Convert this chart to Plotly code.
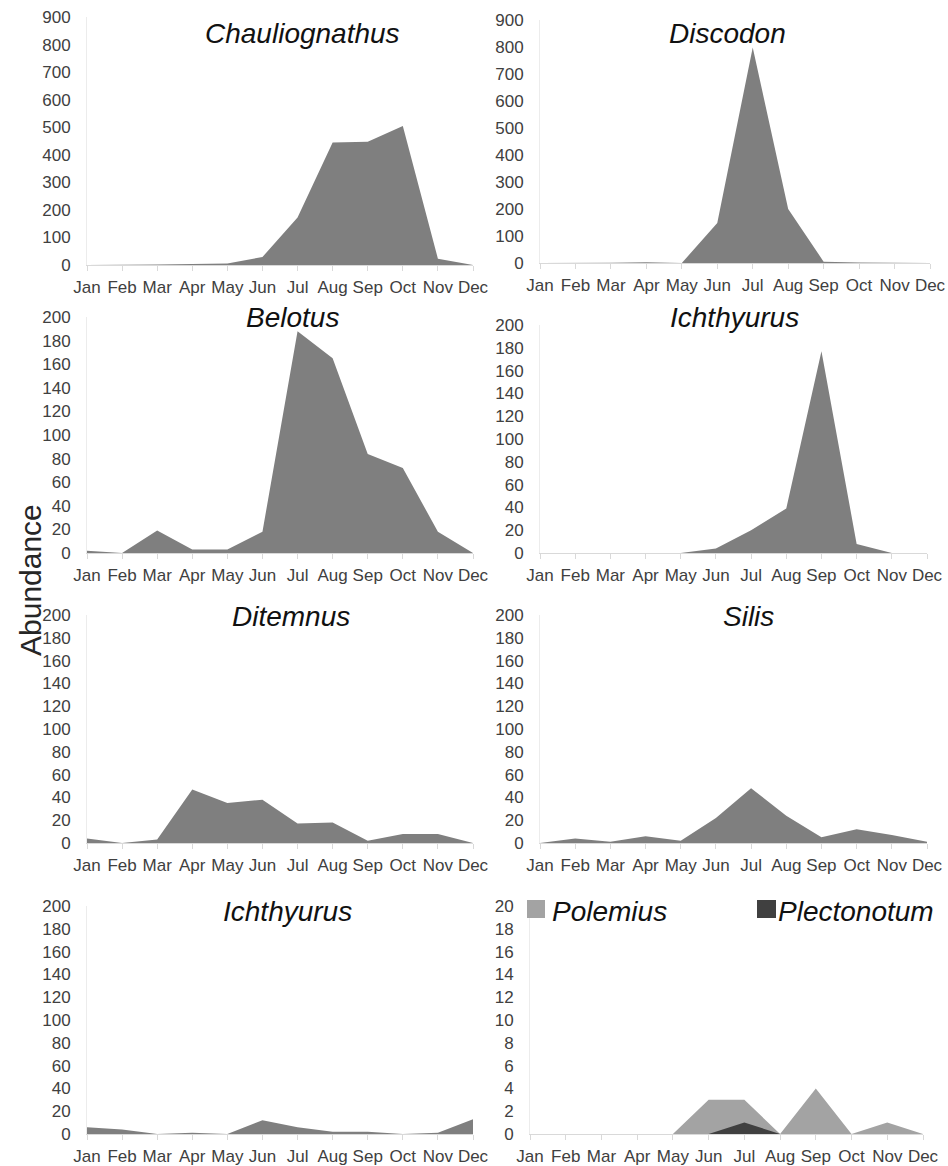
import plotly.graph_objects as go

# body margin removed via post_script, so the figure fills the whole window
OFF = 0
W, H = 948, 1166

months = ["Jan", "Feb", "Mar", "Apr", "May", "Jun", "Jul", "Aug", "Sep", "Oct", "Nov", "Dec"]

chauliognathus = [0, 0, 2, 4, 5, 29, 172, 445, 447, 504, 23, 0]
discodon = [0, 0, 1, 3, 0, 148, 798, 200, 5, 2, 1, 0]
belotus = [2, 0, 19, 3, 3, 18, 188, 165, 84, 72, 18, 0]
ichthyurus_a = [0, 0, 0, 0, 0, 4, 20, 39, 177, 8, 0, 0]
ditemnus = [4, 0, 3, 47, 35, 38, 17, 18, 2, 8, 8, 0]
silis = [0, 4, 1, 6, 2, 22, 48, 24, 5, 12, 7, 1]
ichthyurus_b = [6, 4, 0, 1, 0, 12, 6, 2, 2, 0, 1, 13]
polemius = [0, 0, 0, 0, 0, 3, 3, 0, 4, 0, 1, 0]
plectonotum = [0, 0, 0, 0, 0, 0, 1, 0, 0, 0, 0, 0]

titles = ["Chauliognathus", "Discodon", "Belotus", "Ichthyurus", "Ditemnus", "Silis", "Ichthyurus"]
series = [chauliognathus, discodon, belotus, ichthyurus_a, ditemnus, silis, ichthyurus_b]
y_max = [900, 900, 200, 200, 200, 200, 200, 20]
y_step = [100, 100, 20, 20, 20, 20, 20, 2]

# panel boxes in window pixels: (x0, x1, ytop, ybottom)
boxes = [
    (87, 473, 17, 265),
    (540, 930, 20, 263),
    (87, 473, 317, 553),
    (540, 927, 325, 553),
    (87, 473, 615, 843),
    (540, 927, 615, 843),
    (87, 473, 906, 1134),
    (530, 923, 906, 1134),
]
title_pos = [(302, 34), (727, 34), (292, 317), (734, 317), (291, 616), (748, 616), (287, 911)]


def px(x):
    return (x - OFF) / W


def py(y):
    return 1 - (y - OFF) / H


FILL = "#7f7f7f"
LIGHT = "#a3a3a3"
DARK = "#404040"
FONT = "Liberation Sans, Arial, sans-serif"
TICKC = "#404040"
TS = 17

fig = go.Figure()

for i, (vals, name) in enumerate(zip(series, titles)):
    k = i + 1
    fig.add_trace(go.Scatter(
        x=months, y=vals, mode="lines", fill="tozeroy",
        line=dict(width=0, color=FILL), fillcolor=FILL,
        xaxis=f"x{k}", yaxis=f"y{k}", showlegend=False, name=name))

fig.add_trace(go.Scatter(
    x=months, y=polemius, mode="lines", fill="tozeroy",
    line=dict(width=0, color=LIGHT), fillcolor=LIGHT,
    xaxis="x8", yaxis="y8", showlegend=False, name="Polemius"))
fig.add_trace(go.Scatter(
    x=months, y=plectonotum, mode="lines", fill="tozeroy",
    line=dict(width=0, color=DARK), fillcolor=DARK,
    xaxis="x8", yaxis="y8", showlegend=False, name="Plectonotum"))

layout = dict(
    width=W, height=H,
    margin=dict(l=0, r=0, t=0, b=0, autoexpand=False),
    paper_bgcolor="white", plot_bgcolor="white",
    font=dict(family=FONT, size=TS, color=TICKC),
    showlegend=False,
)

for i, (x0, x1, yt, yb) in enumerate(boxes):
    k = i + 1
    sfx = "" if k == 1 else str(k)
    layout[f"xaxis{sfx}"] = dict(
        domain=[px(x0), px(x1)], anchor=f"y{k}", automargin=False,
        type="category", categoryorder="array", categoryarray=months,
        range=[0, 11], showgrid=False, zeroline=False,
        showline=True, linecolor="#d9d9d9", linewidth=1,
        ticks="outside", ticklen=5, tickcolor="#d9d9d9",
        tickfont=dict(family=FONT, size=TS, color=TICKC),
        ticklabelstandoff=2, ticklabeloverflow="allow",
        fixedrange=True,
    )
    layout[f"yaxis{sfx}"] = dict(
        domain=[py(yb), py(yt)], anchor=f"x{k}", automargin=False,
        range=[0, y_max[i]], dtick=y_step[i], tick0=0,
        showgrid=False, zeroline=False,
        showline=True, linecolor="#ececec", linewidth=1,
        ticks="", tickfont=dict(family=FONT, size=TS, color=TICKC),
        ticklabelstandoff=12, ticklabeloverflow="allow",
        fixedrange=True,
    )

fig.update_layout(**layout)

annotations = []
for (tx, ty), t in zip(title_pos, titles):
    annotations.append(dict(
        text=t, x=px(tx), y=py(ty), xref="paper", yref="paper",
        xanchor="center", yanchor="middle", showarrow=False,
        font=dict(family=FONT, size=28, color="#111111", style="italic")))

annotations.append(dict(
    text="Abundance", x=px(30), y=py(580), xref="paper", yref="paper",
    xanchor="center", yanchor="middle", showarrow=False, textangle=-90,
    font=dict(family=FONT, size=30, color="#262626")))

# legend for last panel
annotations.append(dict(
    text="Polemius", x=px(550), y=py(911), xref="paper", yref="paper",
    xanchor="left", yanchor="middle", showarrow=False,
    font=dict(family=FONT, size=28, color="#111111", style="italic")))
annotations.append(dict(
    text="Plectonotum", x=px(776), y=py(911), xref="paper", yref="paper",
    xanchor="left", yanchor="middle", showarrow=False,
    font=dict(family=FONT, size=28, color="#111111", style="italic")))

shapes = [
    dict(type="rect", xref="paper", yref="paper",
         x0=px(527), x1=px(545), y0=py(918), y1=py(900),
         fillcolor=LIGHT, line=dict(width=0)),
    dict(type="rect", xref="paper", yref="paper",
         x0=px(757), x1=px(776), y0=py(918), y1=py(900),
         fillcolor=DARK, line=dict(width=0)),
]

fig.update_layout(annotations=annotations, shapes=shapes, hovermode=False)

fig.write_html(
    "out.html",
    config={"displayModeBar": False, "staticPlot": True},
    post_script="document.body.style.margin='0px';document.body.style.overflow='hidden';",
)
